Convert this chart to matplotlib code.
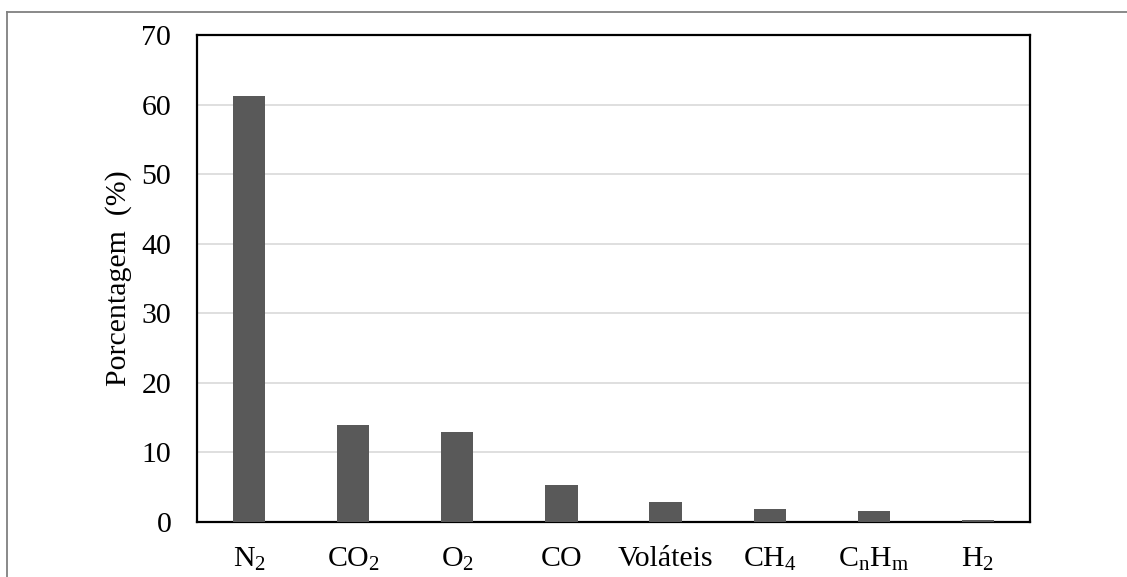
import matplotlib
matplotlib.use("Agg")
import matplotlib.pyplot as plt
from matplotlib.lines import Line2D

categories = ["N$_2$", "CO$_2$", "O$_2$", "CO", "Voláteis", "CH$_4$", "C$_n$H$_m$", "H$_2$"]
values = [61.2, 13.9, 13.0, 5.3, 2.9, 1.9, 1.6, 0.25]
yticks = [0, 10, 20, 30, 40, 50, 60, 70]

plt.rcParams['font.family'] = ['Liberation Serif', 'DejaVu Serif']
plt.rcParams['mathtext.fontset'] = 'custom'
plt.rcParams['mathtext.rm'] = 'Liberation Serif'
plt.rcParams['mathtext.it'] = 'Liberation Serif'
plt.rcParams['mathtext.bf'] = 'Liberation Serif:bold'
plt.rcParams['mathtext.default'] = 'regular'

W, H = 1127, 577
fig = plt.figure(figsize=(W / 100, H / 100), dpi=100)
ax = fig.add_axes([197 / W, 1 - 522 / H, (1030 - 197) / W, (522 - 35) / H])

x = list(range(len(categories)))
ax.bar(x, values, width=0.31, color='#595959', zorder=3)
ax.set_xlim(-0.5, len(categories) - 0.5)
ax.set_ylim(0, 70)
ax.set_yticks(yticks)
ax.set_yticklabels([str(v) for v in yticks])
ax.set_xticks(x)
ax.set_xticklabels(categories)
ax.yaxis.grid(True, color='#d9d9d9', linewidth=1.2, zorder=0)
ax.tick_params(axis='both', length=0, labelsize=21.5, colors='black')
ax.tick_params(axis='y', pad=18.5)
ax.tick_params(axis='x', pad=17)
for s in ax.spines.values():
    s.set_color('black')
    s.set_linewidth(1.6)
ax.set_ylabel("Porcentagem  (%)", fontsize=21.5, labelpad=7)

# outer frame (top and left edges visible)
fig.add_artist(Line2D([7 / W, 1], [1 - 12 / H, 1 - 12 / H], transform=fig.transFigure,
                      color='#808080', linewidth=1.3))
fig.add_artist(Line2D([7 / W, 7 / W], [0, 1 - 12 / H], transform=fig.transFigure,
                      color='#808080', linewidth=1.3))

fig.savefig("out.png", dpi=100)
